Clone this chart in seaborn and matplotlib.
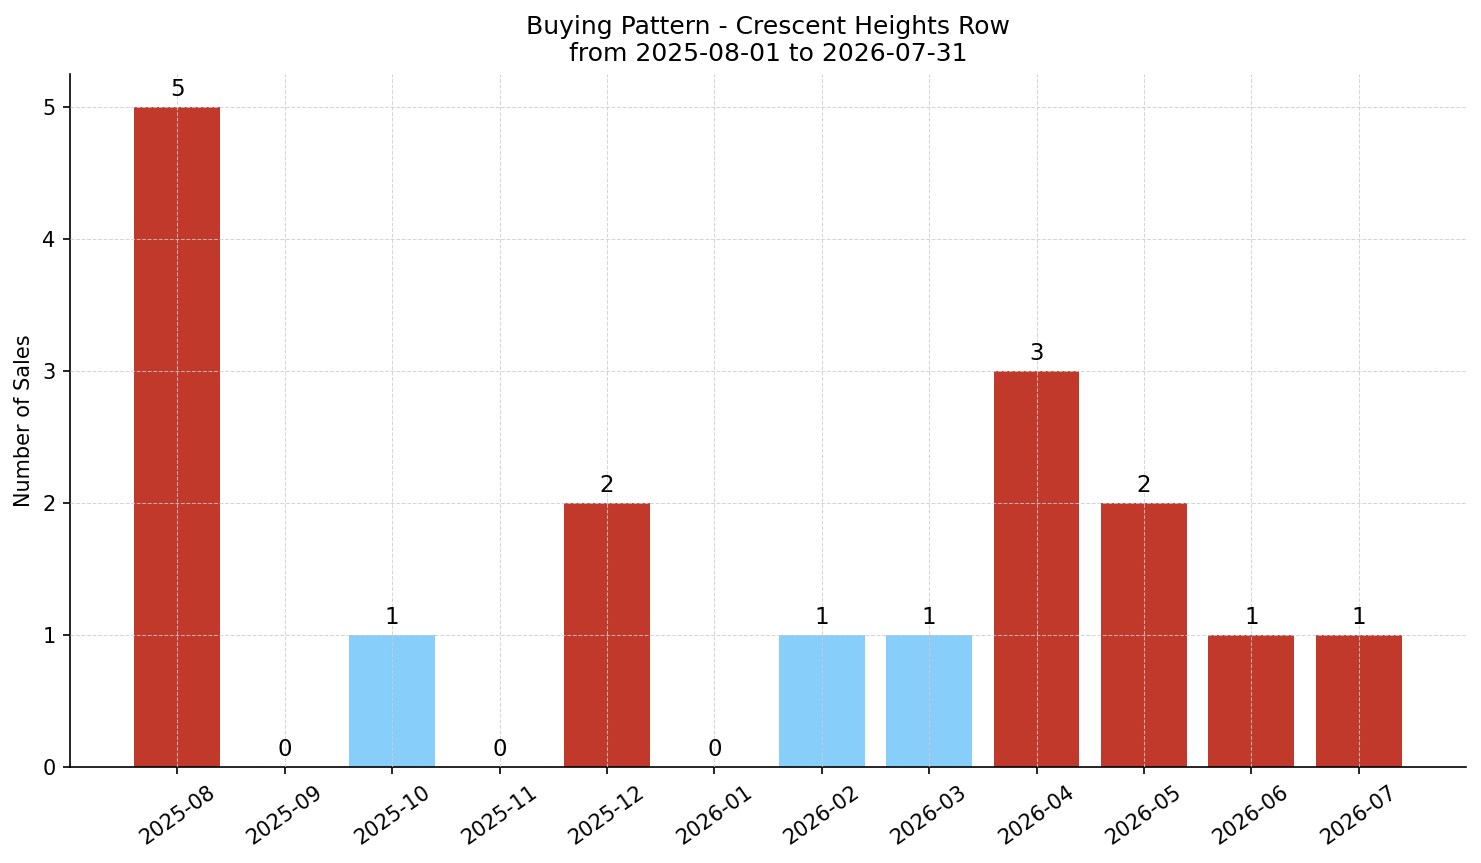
import matplotlib
matplotlib.use('Agg')
import matplotlib.pyplot as plt
import seaborn as sns

months = ['2025-08', '2025-09', '2025-10', '2025-11', '2025-12', '2026-01',
          '2026-02', '2026-03', '2026-04', '2026-05', '2026-06', '2026-07']
sales = [5, 0, 1, 0, 2, 0, 1, 1, 3, 2, 1, 1]
group = ['red', 'red', 'blue', 'red', 'red', 'red',
         'blue', 'blue', 'red', 'red', 'red', 'red']

palette = {'red': '#c0392b', 'blue': '#87cefa'}

fig, ax = plt.subplots(figsize=(1481 / 150, 863 / 150), dpi=150)
sns.barplot(x=months, y=sales, hue=group, palette=palette, dodge=False,
            legend=False, width=0.8, saturation=1, ax=ax)

# value labels on top of each bar
for i, v in enumerate(sales):
    ax.annotate(str(v), (i, v), xytext=(0, 3), textcoords='offset points',
                ha='center', va='bottom', fontsize=11)

ax.set_xlim(-1, 12)
ax.set_ylim(0, max(sales) * 1.05)
ax.grid(True, linestyle='--', color='#cccccc', alpha=0.8, linewidth=0.5)
ax.set_axisbelow(False)
ax.spines['top'].set_visible(False)
ax.spines['right'].set_visible(False)
ax.set_xlabel('')
ax.set_ylabel('Number of Sales', fontsize=10)
ax.set_title('Buying Pattern - Crescent Heights Row\nfrom 2025-08-01 to 2026-07-31', fontsize=12)
ax.tick_params(axis='both', labelsize=10)
plt.setp(ax.get_xticklabels(), rotation=35, ha='center')
plt.subplots_adjust(left=0.0473, right=0.9899, bottom=0.1112, top=0.9143)
plt.savefig('out.png', dpi=150)
